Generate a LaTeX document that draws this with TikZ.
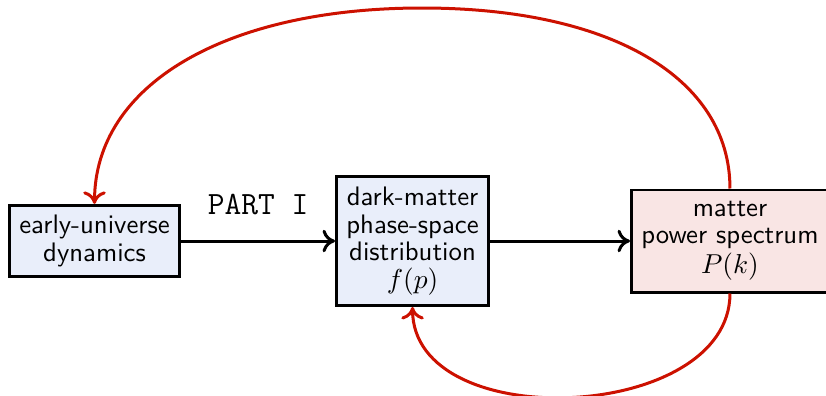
\documentclass[tikz,border=0pt]{standalone}
\usepackage{amsmath}
\usepackage{tikz}
\usepackage{xcolor}
\usetikzlibrary{positioning,arrows.meta}
\definecolor{loopred}{HTML}{CC1100}
\definecolor{stageblue}{HTML}{E9EEFA}
\definecolor{stagepink}{HTML}{F9E5E4}
\tikzstyle{stagebox} = [
    draw=black,
    line width=1.1pt,
    rectangle,
    align=center,
    font=\sffamily\fontsize{10.7}{11}\selectfont,
    inner sep=4pt
    ]
\tikzstyle{flow} = [-{To[length=5pt,width=9pt]}, black, very thick]
\tikzstyle{feedback} = [-{To[length=5pt,width=9pt]}, loopred, very thick]

\begin{document}
\begin{tikzpicture}[x=0.4pt, y=0.4pt]
\useasboundingbox (0,0) rectangle (826,395);
% stages of the chain, left to right
\node [stagebox, fill=stageblue, minimum width=68.1pt, minimum height=27.7pt] (early) at (94.5,154) {early-universe\\dynamics};
\node [stagebox, fill=stageblue, minimum width=60.9pt, minimum height=51.7pt, right=61.6pt of early] (dist) {dark-matter\\phase-space\\distribution\\$f(p)$};
\node [stagebox, fill=stagepink, minimum width=76.5pt, minimum height=40.9pt, right=56pt of dist] (power) {matter\\power spectrum\\[1pt]$P(k)$};
% forward arrows
\draw [flow] (early) -- node [above=6.5pt, font=\ttfamily\fontsize{13}{15}\selectfont] (part) {PART I} (dist);
\draw [flow] (dist) -- (power);
% feedback loops: the long one passes over the top
\coordinate (apex) at (422,387);
\draw [feedback] (power.north) .. controls +(0,110) and +(190,0) .. (apex)
    .. controls +(-195,0) and +(0,120) .. (early.north);
\draw [feedback] (power.south) to [out=-90, in=-90, looseness=1.04] (dist.south);
\end{tikzpicture}
\end{document}
